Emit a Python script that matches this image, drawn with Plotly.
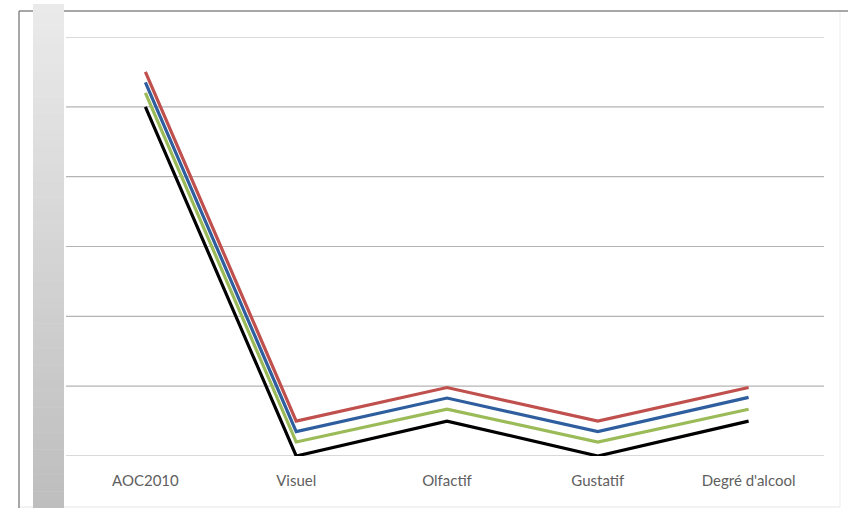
import plotly.graph_objects as go

# Categories and series values (grid step = 1 unit)
categories = ["AOC2010", "Visuel", "Olfactif", "Gustatif", "Degré d'alcool"]
serie_noire = [5.0, 0.0, 0.5, 0.0, 0.5]
serie_verte = [5.2, 0.2, 0.67, 0.2, 0.67]
serie_bleue = [5.35, 0.35, 0.83, 0.35, 0.84]
serie_rouge = [5.5, 0.5, 0.98, 0.5, 0.98]
grid_values = [0, 1, 2, 3, 4, 5, 6]

W, H = 848, 508


def px_x(x):
    return x / W


def px_y(y):
    return (H - y) / H


fig = go.Figure()

series = [
    ("Série 4", serie_rouge, "#C0504D"),
    ("Série 3", serie_bleue, "#2E5E9E"),
    ("Série 2", serie_verte, "#9BBB59"),
    ("Série 1", serie_noire, "#000000"),
]
for name, vals, col in series:
    fig.add_trace(go.Scatter(
        x=categories, y=vals, mode="lines", name=name,
        line=dict(color=col, width=3.2),
        hoverinfo="skip",
    ))

shapes = []
# chart frame: darker top/left edges, faint right/bottom edges
shapes.append(dict(type="line", xref="paper", yref="paper",
                   x0=px_x(19), x1=1, y0=px_y(11), y1=px_y(11),
                   line=dict(color="#8a8a8a", width=1.5), layer="below"))
shapes.append(dict(type="line", xref="paper", yref="paper",
                   x0=px_x(19), x1=px_x(19), y0=0, y1=px_y(11),
                   line=dict(color="#8a8a8a", width=1.5), layer="below"))
shapes.append(dict(type="line", xref="paper", yref="paper",
                   x0=px_x(840), x1=px_x(840), y0=px_y(507), y1=px_y(12),
                   line=dict(color="#ececec", width=1), layer="below"))
shapes.append(dict(type="line", xref="paper", yref="paper",
                   x0=px_x(20), x1=px_x(840), y0=px_y(507), y1=px_y(507),
                   line=dict(color="#e6e6e6", width=1), layer="below"))
# horizontal gridlines
for g in grid_values:
    shapes.append(dict(type="line", xref="paper", yref="y",
                       x0=px_x(66), x1=px_x(824), y0=g, y1=g,
                       line=dict(color="#b4b4b4", width=1.2), layer="below"))
# shaded side wall drawn as thin strips (light at top, darker at bottom)
n = 60
top, bot = 4, 508
c_top = (234, 234, 234)
c_bot = (190, 190, 190)
for i in range(n):
    t = i / (n - 1)
    c = tuple(int(round(c_top[k] + (c_bot[k] - c_top[k]) * t)) for k in range(3))
    y0 = top + (bot - top) * i / n
    y1 = top + (bot - top) * (i + 1) / n
    shapes.append(dict(type="rect", xref="paper", yref="paper",
                       x0=px_x(33), x1=px_x(64), y0=px_y(y1 + 0.5), y1=px_y(y0),
                       line=dict(width=0), fillcolor="rgb(%d,%d,%d)" % c,
                       layer="below"))

fig.update_layout(
    width=W, height=H,
    margin=dict(l=0, r=0, t=0, b=0),
    paper_bgcolor="white",
    plot_bgcolor="rgba(0,0,0,0)",
    showlegend=False,
    shapes=shapes,
    xaxis=dict(
        domain=[px_x(70), px_x(824)],
        range=[-0.5, 4.5],
        showgrid=False, zeroline=False, showline=False,
        ticks="", ticklabelstandoff=14,
        tickfont=dict(family="Lato", size=15, color="#606060"),
    ),
    yaxis=dict(
        domain=[px_y(456), px_y(37)],
        range=[0, 6],
        showgrid=False, zeroline=False, showline=False,
        showticklabels=False, ticks="",
    ),
)

fig.write_html("out.html")
